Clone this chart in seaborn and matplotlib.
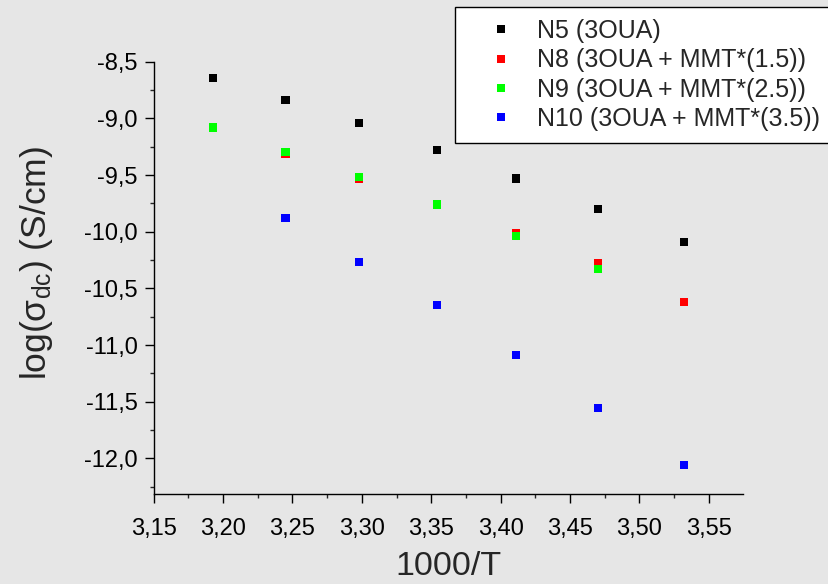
import numpy as np
import pandas as pd
import matplotlib
matplotlib.use("Agg")
import matplotlib.pyplot as plt
import seaborn as sns
from matplotlib.ticker import MultipleLocator, FuncFormatter

# ---- data ----
x_vals = [3.193, 3.245, 3.298, 3.354, 3.411, 3.470, 3.532]
series_names = ["N5 (3OUA)", "N8 (3OUA + MMT*(1.5))",
                "N9 (3OUA + MMT*(2.5))", "N10 (3OUA + MMT*(3.5))"]
n5 = [-8.64, -8.84, -9.04, -9.28, -9.53, -9.80, -10.09]
n8 = [-9.08, -9.31, -9.53, -9.76, -10.01, -10.28, -10.62]
n9 = [-9.08, -9.30, -9.515, -9.76, -10.04, -10.33]
n10 = [-9.88, -10.265, -10.65, -11.09, -11.555, -12.055]
n9_x = x_vals[:6]
n10_x = x_vals[1:]
colors = ["#000000", "#ff0000", "#00ff00", "#0000ff"]

rows = []
for name, xs, ys in [(series_names[0], x_vals, n5),
                     (series_names[1], x_vals, n8),
                     (series_names[2], n9_x, n9),
                     (series_names[3], n10_x, n10)]:
    for xx, yy in zip(xs, ys):
        rows.append({"x": xx, "y": yy, "series": name})
df = pd.DataFrame(rows)

sns.set_style("ticks")
plt.rcParams["font.family"] = ["Liberation Sans", "DejaVu Sans"]
plt.rcParams["mathtext.fontset"] = "custom"
plt.rcParams["mathtext.rm"] = "Liberation Sans"
plt.rcParams["mathtext.it"] = "Liberation Sans:italic"

bg = "#e6e6e6"
fig = plt.figure(figsize=(8.29, 5.84), dpi=100, facecolor=bg)
ax = fig.add_axes([0.1853, 0.1541, 0.7110, 0.7402])
ax.set_facecolor("none")

sns.scatterplot(data=df, x="x", y="y", hue="series", hue_order=series_names,
                palette=colors, marker="s", s=34, edgecolor="none",
                linewidth=0, ax=ax, legend=True)

ax.set_xlim(3.15, 3.5746)
ax.set_ylim(-12.314, -8.5)

ax.xaxis.set_major_locator(MultipleLocator(0.05))
ax.xaxis.set_minor_locator(MultipleLocator(0.025))
ax.yaxis.set_major_locator(MultipleLocator(0.5))
ax.yaxis.set_minor_locator(MultipleLocator(0.25))
ax.xaxis.set_major_formatter(FuncFormatter(lambda v, p: f"{v:.2f}".replace(".", ",")))
ax.yaxis.set_major_formatter(FuncFormatter(lambda v, p: f"{v:.1f}".replace(".", ",")))

for s in ["top", "right"]:
    ax.spines[s].set_visible(False)
for s in ["left", "bottom"]:
    ax.spines[s].set_linewidth(1.0)
    ax.spines[s].set_color("black")

ax.tick_params(which="major", direction="out", length=6.3, width=1.0,
               labelsize=17, colors="black")
ax.tick_params(axis="x", which="major", pad=11)
ax.tick_params(axis="y", which="major", pad=5)
ax.tick_params(which="minor", direction="out", length=3.0, width=1.0)

ax.set_xlabel("1000/T", fontsize=24.5)
ax.set_ylabel(r"log($\mathregular{\sigma_{dc}}$) (S/cm)", fontsize=25.5)
ax.xaxis.set_label_coords(0.5, -0.131)
ax.yaxis.set_label_coords(-0.167, 0.535)

handles, labels = ax.get_legend_handles_labels()
leg = ax.legend(handles, labels, loc="upper left",
                bbox_to_anchor=(455 / 829, 1 - 6.7 / 584),
                bbox_transform=fig.transFigure, borderaxespad=0,
                fontsize=18, frameon=True, fancybox=False, framealpha=1,
                edgecolor="black", facecolor="white", handlelength=2.7,
                handletextpad=0.1, borderpad=0.5, labelspacing=0.21,
                markerscale=0.9)
leg.get_frame().set_linewidth(1.0)

fig.savefig("out.png", dpi=100, facecolor=bg)
